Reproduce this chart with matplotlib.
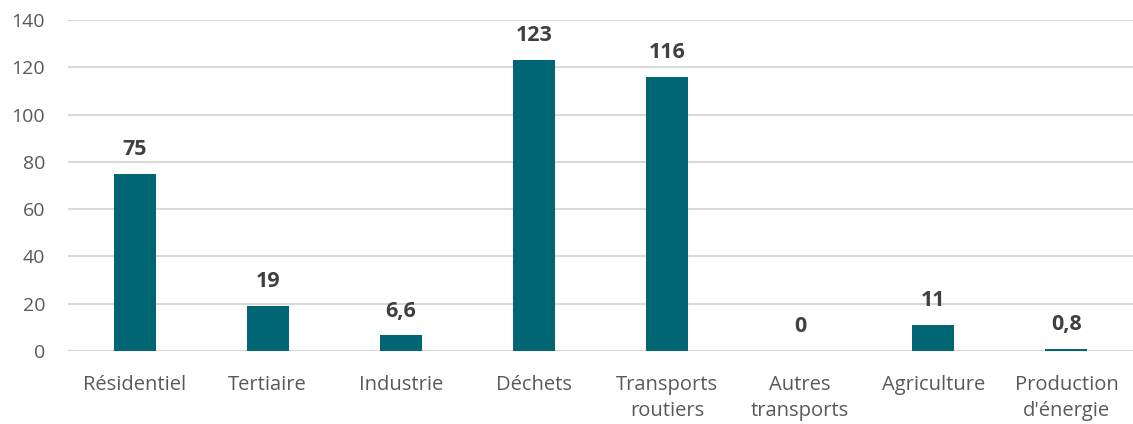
import matplotlib.pyplot as plt

# ── Data ──────────────────────────────────────────────────────────────────────
categories = ['Résidentiel', 'Tertiaire', 'Industrie', 'Déchets',
              'Transports\nroutiers', 'Autres\ntransports', 'Agriculture',
              "Production\nd'énergie"]
values = [75, 19, 6.6, 123, 116, 0, 11, 0.8]
value_labels = ['75', '19', '6,6', '123', '116', '0', '11', '0,8']
y_ticks = [0, 20, 40, 60, 80, 100, 120, 140]

plt.rcParams['font.family'] = ['Open Sans', 'DejaVu Sans']

# ── Chart ─────────────────────────────────────────────────────────────────────
fig = plt.figure(figsize=(11.33, 4.24), dpi=100)
ax = fig.add_axes([0.060, 0.172, 0.94, 0.781])

x = range(len(categories))
ax.bar(x, values, width=0.315, color='#006673', zorder=3)

for xi, v, lab in zip(x, values, value_labels):
    ax.annotate(lab, (xi, v), xytext=(0, 10), textcoords='offset points',
                ha='center', va='bottom', fontsize=15.5, fontweight='bold',
                color='#404040')

ax.set_xlim(-0.5, len(categories) - 0.5)
ax.set_ylim(0, 140)
ax.set_yticks(y_ticks)
ax.set_xticks(list(x))
ax.set_xticklabels(categories, linespacing=1.4)
ax.tick_params(axis='both', length=0, labelsize=14, labelcolor='#595959')
ax.tick_params(axis='x', labelsize=14.5, pad=17)
ax.tick_params(axis='y', pad=16.5)
ax.grid(axis='y', color='#D9D9D9', linewidth=1.5, zorder=0)
ax.set_axisbelow(True)
for s in ax.spines.values():
    s.set_visible(False)
ax.axhline(0, color='#D9D9D9', linewidth=1.5, zorder=1)

fig.savefig('out.png', dpi=100)
